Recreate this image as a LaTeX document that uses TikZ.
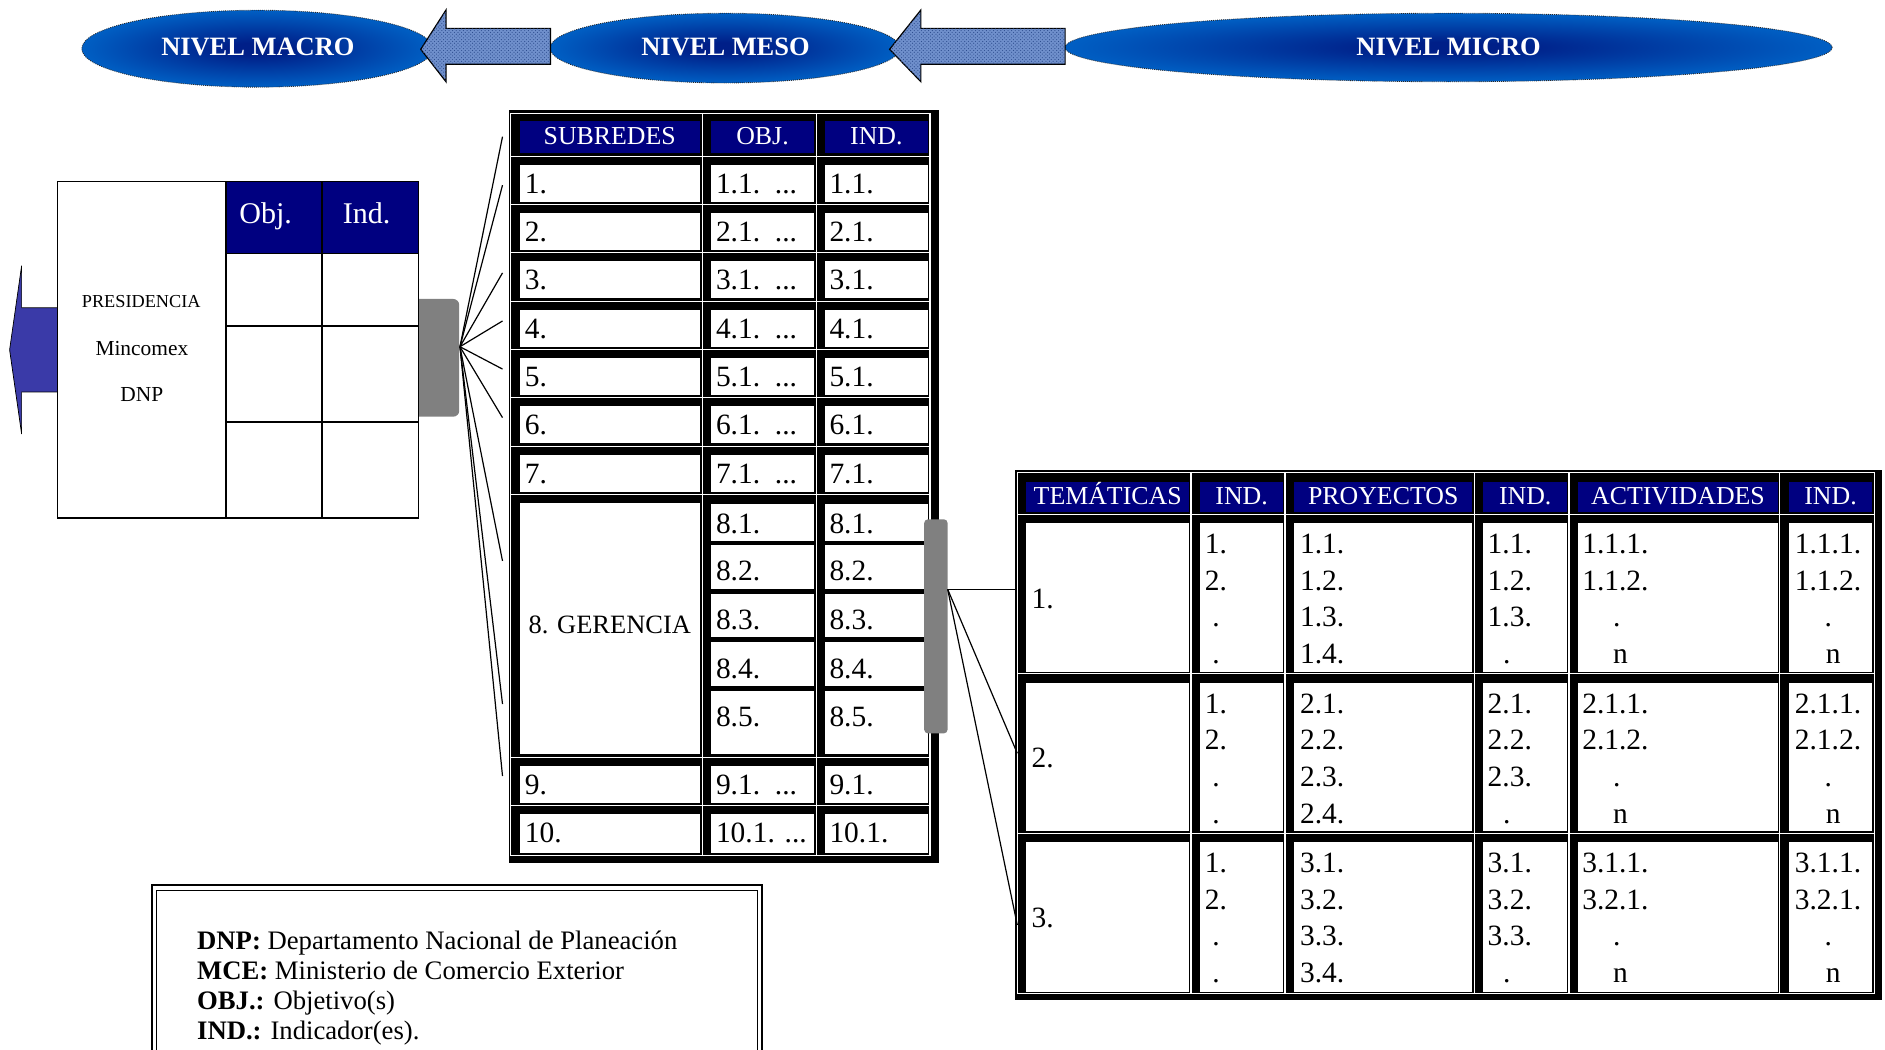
\documentclass[tikz,border=0pt]{standalone}
\usepackage{fontspec}
\setmainfont{Liberation Serif}
\usetikzlibrary{patterns}
\definecolor{navyhd}{HTML}{000080}
\definecolor{arrowblue}{HTML}{3A3AA8}
\definecolor{elledge}{HTML}{0068CC}
\definecolor{ellcenter}{HTML}{001F88}
\definecolor{texblue}{HTML}{7090CC}
\definecolor{texdark}{HTML}{2E4E90}
\definecolor{bargray}{HTML}{808080}
\pgfdeclareradialshading{ellshade}{\pgfpoint{0bp}{0bp}}{color(0bp)=(ellcenter); color(4bp)=(ellcenter); color(28bp)=(elledge); color(50bp)=(elledge)}
\newcommand{\fsz}[1]{\fontsize{#1}{#1}\selectfont}
\newcommand{\tdots}{.{}.{}.}
\begin{document}
\begin{tikzpicture}[x=1pt,y=-1pt,
  every node/.style={inner sep=0pt,outer sep=0pt},
  bodytxt/.style={font=\fsz{24.5},anchor=base west},
  bodyctr/.style={font=\fsz{24.5},anchor=base},
  hdrtxt/.style={font=\fsz{21.5},text=white,anchor=base},
  lvltxt/.style={font=\bfseries\fsz{22},text=white,anchor=base},
  lvlline/.style={draw=black!85,line width=0.7pt,densely dotted},
  texarrow/.style={fill=texblue,postaction={pattern=crosshatch dots,pattern color=texdark},draw=black,line width=1pt},
  conline/.style={black,line width=1pt},
  whiteline/.style={white,line width=0.9pt},
  legtxt/.style={font=\fsz{22.2},anchor=base west},
  ]
\useasboundingbox (0,0) rectangle (1568,873);
\fill[white] (0,0) rectangle (1568,873);

% ---------- top level ellipses ----------
\shade[shading=ellshade] (214,40.5) ellipse [x radius=146,y radius=32];
\draw[lvlline] (214,40.5) ellipse [x radius=146,y radius=32];
\shade[shading=ellshade] (603,40) ellipse [x radius=145.4,y radius=29];
\draw[lvlline] (603,40) ellipse [x radius=145.4,y radius=29];
\shade[shading=ellshade] (1205,39.5) ellipse [x radius=319,y radius=28.5];
\draw[lvlline] (1205,39.5) ellipse [x radius=319,y radius=28.5];
\node[lvltxt] (macro) at (214.5,45.8) {NIVEL MACRO};
\node[lvltxt] (meso) at (603.5,45.8) {NIVEL MESO};
\node[lvltxt] (micro) at (1205,45.8) {NIVEL MICRO};
% textured arrows
\path[texarrow] (350,41) -- (371,8.3) -- (371,23.6) -- (458,23.6) -- (458,53.5) -- (371,53.5) -- (371,68) -- cycle;
\path[texarrow] (740,41) -- (766,8.3) -- (766,23.6) -- (886,23.6) -- (886,53.5) -- (766,53.5) -- (766,68) -- cycle;

% ---------- left block ----------
\path[fill=arrowblue,draw=black,line width=0.6pt] (8,291) -- (18,221) -- (18,256) -- (48,256) -- (48,326) -- (18,326) -- (18,361) -- cycle;
\fill[bargray,rounded corners=5pt] (330,248.7) rectangle (382,346.6);
\fill[white] (48,151) rectangle (348,431);
\fill[navyhd] (188,151) rectangle (348,211);
\draw[line width=1.3pt] (188,151) -- (188,431) (268,151) -- (268,431)
  (188,211) -- (348,211) (188,271) -- (348,271) (188,351) -- (348,351);
\draw[line width=1.3pt] (48,151) rectangle (348,431);
\node[font=\fsz{15.2},anchor=base] (pres) at (117.5,256) {PRESIDENCIA};
\node[font=\fsz{17.8},anchor=base] (minc) at (118,295.3) {Mincomex};
\node[font=\fsz{17.8},anchor=base] (dnpl) at (118,334) {DNP};
\node[font=\fsz{25},text=white,anchor=base] (objh) at (221,186) {Obj.};
\node[font=\fsz{25},text=white,anchor=base] (indh) at (305,186) {Ind.};

% fan lines
\coordinate (hubL) at (382.6,288.4);
\foreach \yy [count=\k] in {113.7,154,227,267,307,347.4,466.6,585.6,645.5}{
  \coordinate (fe\k) at (418,\yy);
  \draw[conline] (hubL) -- (fe\k);
}

% ---------- SUBREDES table ----------
\fill[black] (423,91.5) rectangle (781,718);
\foreach \xa/\xb in {424.8/584,584/679,679/773.6}{
  \foreach \ya/\yb in {94.3/130,130/170.2,170.2/210.4,210.4/250.6,250.6/290.8,290.8/331,331/371.2,371.2/411.4,411.4/630,630/670,670/711.7}{
    \draw[whiteline] (\xa,\ya) rectangle (\xb,\yb);
  }
  \fill[navyhd] (\xa+7.5,100.4) rectangle (\xb-2,127.4);
}
\node[hdrtxt] (hsub) at (507.2,120.6) {SUBREDES};
\node[hdrtxt] (hobj) at (634.3,120.6) {OBJ.};
\node[hdrtxt] (hind) at (729,120.6) {IND.};
\foreach \yt [count=\i] in {130,170.2,210.4,250.6,290.8,331,371.2}{
  \fill[white] (432.3,\yt+7) rectangle (582,\yt+37.7);
  \fill[white] (591.5,\yt+7) rectangle (677,\yt+37.7);
  \fill[white] (686.6,\yt+7) rectangle (771.6,\yt+37.7);
  \node[bodytxt] (sa\i) at (436.7,\yt+30.8) {\i.};
  \node[bodytxt] (sb\i) at (595.6,\yt+30.8) {\i.1.\ \ \tdots};
  \node[bodytxt] (sc\i) at (690,\yt+30.8) {\i.1.};
}
% row 8
\fill[white] (432.3,418.6) rectangle (582,627.6);
\node[font=\fsz{22},anchor=base] (ger) at (507.2,526.8) {8. GERENCIA};
\foreach \ya/\yb/\bl [count=\j] in {419/450/443.6,453.3/490.2/482.5,494/530/524,534.3/571/564.2,574.8/627.6/604.4}{
  \fill[white] (591.5,\ya) rectangle (677,\yb);
  \fill[white] (686.6,\ya) rectangle (771.6,\yb);
  \node[bodytxt] (sb8\j) at (595.6,\bl) {8.\j.};
  \node[bodytxt] (sc8\j) at (690,\bl) {8.\j.};
}
% rows 9 and 10
\fill[white] (432.3,637) rectangle (582,667.6);
\fill[white] (591.5,637) rectangle (677,667.6);
\fill[white] (686.6,637) rectangle (771.6,667.6);
\fill[white] (432.3,677) rectangle (582,709.3);
\fill[white] (591.5,677) rectangle (677,709.3);
\fill[white] (686.6,677) rectangle (771.6,709.3);
\node[bodytxt] (sa9) at (436.7,661) {9.};
\node[bodytxt] (sb9) at (595.6,661) {9.1.\ \ \tdots};
\node[bodytxt] (sc9) at (690,661) {9.1.};
\node[bodytxt] (sa10) at (436.7,701) {10.};
\node[bodytxt] (sb10) at (595.6,701) {10.1. \tdots};
\node[bodytxt] (sc10) at (690,701) {10.1.};
% right gray bar
\fill[bargray,rounded corners=3pt] (768.8,432) rectangle (788.2,610);
\coordinate (hubR) at (788.3,490.2);

% ---------- right (micro) table ----------
\fill[black] (844.3,391) rectangle (1565.2,831.8);
\foreach \xa/\xb in {846.2/990.7,990.7/1068.9,1068.9/1226.5,1226.5/1305.1,1305.1/1480.6,1480.6/1559}{
  \foreach \ya/\yb in {393.2/427.8,427.8/560.6,560.6/693.2,693.2/826.5}{
    \draw[whiteline] (\xa,\ya) rectangle (\xb,\yb);
  }
  \fill[navyhd] (\xa+7.5,400.7) rectangle (\xb-1.7,425.6);
  \foreach \ya/\yb in {427.8/560.6,560.6/693.2,693.2/826.5}{
    \fill[white] (\xa+7.5,\ya+7.5) rectangle (\xb-1.7,\yb-1.6);
  }
}
\node[hdrtxt] (htem) at (921.4,420) {TEMÁTICAS};
\node[hdrtxt] (hin1) at (1032.8,420) {IND.};
\node[hdrtxt] (hpro) at (1150.6,420) {PROYECTOS};
\node[hdrtxt] (hin2) at (1268.7,420) {IND.};
\node[hdrtxt] (hact) at (1395.8,420) {ACTIVIDADES};
\node[hdrtxt] (hin3) at (1522.7,420) {IND.};
\foreach \ya/\sec [count=\r] in {427.8/1.1.2.,560.6/2.1.2.,693.2/3.2.1.}{
  \node[bodytxt] (tm\r) at (858.2,\ya+78.2) {\r.};
  \node[bodytxt] (ia\r) at (1002.3,\ya+32.5) {1.};
  \node[bodytxt] (ib\r) at (1002.3,\ya+63) {2.};
  \node[bodyctr] (ic\r) at (1011.5,\ya+93.5) {.};
  \node[bodyctr] (id\r) at (1011.5,\ya+124) {.};
  \node[bodytxt] (pa\r) at (1081.4,\ya+32.5) {\r.1.};
  \node[bodytxt] (pb\r) at (1081.4,\ya+63) {\r.2.};
  \node[bodytxt] (pc\r) at (1081.4,\ya+93.5) {\r.3.};
  \node[bodytxt] (pd\r) at (1081.4,\ya+124) {\r.4.};
  \node[bodytxt] (ja\r) at (1237.5,\ya+32.5) {\r.1.};
  \node[bodytxt] (jb\r) at (1237.5,\ya+63) {\r.2.};
  \node[bodytxt] (jc\r) at (1237.5,\ya+93.5) {\r.3.};
  \node[bodyctr] (jd\r) at (1253.3,\ya+124) {.};
  \node[bodytxt] (aa\r) at (1316.2,\ya+32.5) {\r.1.1.};
  \node[bodytxt] (ab\r) at (1316.2,\ya+63) {\sec};
  \node[bodyctr] (ac\r) at (1344.8,\ya+93.5) {.};
  \node[bodyctr] (ad\r) at (1348,\ya+124) {n};
  \node[bodytxt] (ka\r) at (1493,\ya+32.5) {\r.1.1.};
  \node[bodytxt] (kb\r) at (1493,\ya+63) {\sec};
  \node[bodyctr] (kc\r) at (1520.8,\ya+93.5) {.};
  \node[bodyctr] (kd\r) at (1525,\ya+124) {n};
}
\coordinate (ct1) at (846.2,490.2);
\coordinate (ct2) at (846.2,626.6);
\coordinate (ct3) at (846.2,769.4);
\foreach \k in {1,2,3}{\draw[conline] (hubR) -- (ct\k);}

% ---------- legend ----------
\draw[line width=1.7pt] (126.2,880) -- (126.2,736.5) -- (634,736.5) -- (634,880);
\draw[line width=0.8pt] (130.5,880) -- (130.5,741) -- (629.7,741) -- (629.7,880);
\node[legtxt] (lg1) at (164,790) {\textbf{DNP:} Departamento Nacional de Planeación};
\node[legtxt] (lg2) at (164,815) {\textbf{MCE:} Ministerio de Comercio Exterior};
\node[legtxt] (lg3) at (164,840) {\textbf{OBJ.:} Objetivo(s)};
\node[legtxt] (lg4) at (164,865) {\textbf{IND.:} Indicador(es).};
\end{tikzpicture}
\end{document}
